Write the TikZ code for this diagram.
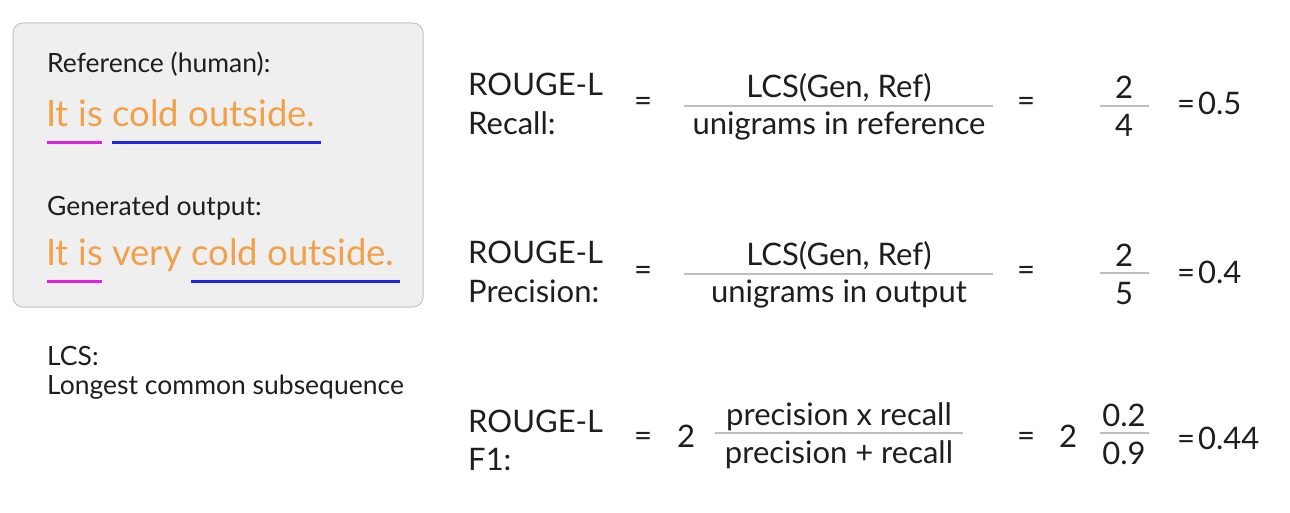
\documentclass[tikz,border=0pt]{standalone}
\usepackage{fontspec}
\setmainfont{Lato}
\definecolor{ink}{HTML}{1E1E1E}
\definecolor{sent}{HTML}{F0A24A}
\definecolor{ulmag}{HTML}{E020E0}
\definecolor{ulblue}{HTML}{2323E6}
\definecolor{panel}{HTML}{EFEFEF}
\definecolor{panelrim}{HTML}{C4C4C4}
\definecolor{bar}{HTML}{BDBDBD}
\begin{document}
\begin{tikzpicture}[x=1pt,y=-1pt,
  lbl/.style={inner sep=0pt,anchor=base west,text=ink,font=\fontsize{26.5}{30}\selectfont},
  sentence/.style={inner sep=0pt,anchor=base west,text=sent,font=\fontsize{36.5}{42}\selectfont},
  eq/.style={inner sep=0pt,anchor=base west,text=ink,font=\fontsize{31}{36}\selectfont},
  num/.style={inner sep=0pt,anchor=base,text=ink,font=\fontsize{31}{36}\selectfont},
  fracbar/.style={draw=bar,line width=1.3pt},
  ul/.style={line width=3pt}]
\useasboundingbox (0,0) rectangle (1290,513);
\fill[white] (0,0) rectangle (1290,513);

% example panel
\draw[fill=panel,draw=panelrim,line width=1pt,rounded corners=10pt] (13,23) rectangle (423,307);
\node[lbl] (refhead) at (47,73) {Reference (human):};
\node[sentence] (refsent) at (46,127) {It is cold outside.};
\draw[ul,ulmag] (47,143) -- (102,143);
\draw[ul,ulblue] (112,143) -- (321,143);
\node[lbl] (genhead) at (47,215) {Generated output:};
\node[sentence] (gensent) at (46,265) {It is very cold outside.};
\draw[ul,ulmag] (47,281) -- (102,281);
\draw[ul,ulblue] (191,281) -- (400,281);

\node[lbl] (lcs) at (47,365) {LCS:};
\node[lbl] (lcsdef) at (47,394) {Longest common subsequence};

% recall
\node[eq] (rl1) at (468,96) {ROUGE-L};
\node[eq] (rec) at (468,135) {Recall:};
\node[num] (eqa1) at (643,112) {=};
\node[num] (n1) at (839,98) {LCS(Gen, Ref)};
\draw[fracbar] (684,106) -- (993,106);
\node[num] (d1) at (839,135) {unigrams in reference};
\node[num] (eqb1) at (1026,112) {=};
\node[num] (v1n) at (1124,99) {2};
\draw[fracbar] (1100,106) -- (1149,106);
\node[num] (v1d) at (1124,137) {4};
\node[eq] (r1) at (1177,115) {=\kern3pt0.5};

% precision
\node[eq] (rl2) at (468,263) {ROUGE-L};
\node[eq] (prec) at (468,302) {Precision:};
\node[num] (eqa2) at (643,280) {=};
\node[num] (n2) at (839,265) {LCS(Gen, Ref)};
\draw[fracbar] (684,274) -- (993,274);
\node[num] (d2) at (839,302) {unigrams in output};
\node[num] (eqb2) at (1026,280) {=};
\node[num] (v2n) at (1124,266) {2};
\draw[fracbar] (1100,273) -- (1149,273);
\node[num] (v2d) at (1124,304) {5};
\node[eq] (r2) at (1177,283) {=\kern3pt0.4};

% F1
\node[eq] (rl3) at (468,432) {ROUGE-L};
\node[eq] (f1) at (468,470) {F1:};
\node[num] (eqa3) at (643,446) {=};
\node[num] (two3) at (686,447) {2};
\node[num] (n3) at (839,425) {precision x recall};
\draw[fracbar] (715,433) -- (963,433);
\node[num] (d3) at (839,463) {precision + recall};
\node[num] (eqb3) at (1026,446) {=};
\node[num] (two4) at (1068,447) {2};
\node[num] (v3n) at (1124,426) {0.2};
\draw[fracbar] (1100,433) -- (1149,433);
\node[num] (v3d) at (1124,464) {0.9};
\node[eq] (r3) at (1177,449) {=\kern3pt0.44};
\end{tikzpicture}
\end{document}
